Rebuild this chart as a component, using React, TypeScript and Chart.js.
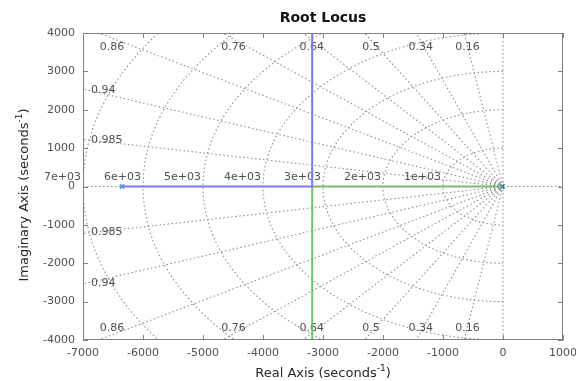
import React, { useEffect, useRef } from 'react';
import { Chart, registerables } from 'chart.js';

Chart.register(...registerables);

// ---- data ----
const poleReal = [-6350, -10];
const poleImag = [0, 0];
const blueBranchReal = [-6350, -3180, -3180];
const blueBranchImag = [0, 0, 4300];
const greenBranchReal = [-10, -3180, -3180];
const greenBranchImag = [0, 0, -4300];
const dampingRatios = [0.16, 0.34, 0.5, 0.64, 0.76, 0.86, 0.94, 0.985];
const dampingLabels = ['0.16', '0.34', '0.5', '0.64', '0.76', '0.86', '0.94', '0.985'];
const naturalFreqs = [1000, 2000, 3000, 4000, 5000, 6000, 7000];
const naturalFreqLabels = ['1e+03', '2e+03', '3e+03', '4e+03', '5e+03', '6e+03', '7e+03'];
const xTickValues = [-7000, -6000, -5000, -4000, -3000, -2000, -1000, 0, 1000];
const xTickLabels = ['-7000', '-6000', '-5000', '-4000', '-3000', '-2000', '-1000', '0', '1000'];
const yTickValues = [-4000, -3000, -2000, -1000, 0, 1000, 2000, 3000, 4000];
const yTickLabels = ['-4000', '-3000', '-2000', '-1000', '0', '1000', '2000', '3000', '4000'];

const titleText = 'Root Locus';
const xTitleText = 'Real Axis (seconds';
const yTitleText = 'Imaginary Axis (seconds';
const superText = '-1';

const FONT = '"DejaVu Sans", "Liberation Sans", sans-serif';

const sgridPlugin = {
  id: 'sgrid',
  beforeDatasetsDraw(chart: any) {
    const { ctx, chartArea: a, scales } = chart;
    const xs = scales.x;
    const ys = scales.y;
    const px = (v: number) => xs.getPixelForValue(v);
    const py = (v: number) => ys.getPixelForValue(v);
    const xMin = xs.min;
    const yMax = ys.max;

    ctx.save();
    ctx.beginPath();
    ctx.rect(a.left, a.top, a.right - a.left, a.bottom - a.top);
    ctx.clip();
    ctx.strokeStyle = '#8e8e8e';
    ctx.lineWidth = 1.1;
    ctx.setLineDash([1.5, 2.5]);

    // real and imaginary axes
    ctx.beginPath();
    ctx.moveTo(a.left, py(0));
    ctx.lineTo(a.right, py(0));
    ctx.moveTo(px(0), a.top);
    ctx.lineTo(px(0), a.bottom);
    ctx.stroke();

    // damping lines
    const R = 30000;
    dampingRatios.forEach((z) => {
      const s = Math.sqrt(1 - z * z);
      ctx.beginPath();
      ctx.moveTo(px(0), py(0));
      ctx.lineTo(px(-z * R), py(s * R));
      ctx.moveTo(px(0), py(0));
      ctx.lineTo(px(-z * R), py(-s * R));
      ctx.stroke();
    });

    // natural frequency semicircles
    naturalFreqs.forEach((w) => {
      ctx.beginPath();
      const n = 120;
      for (let i = 0; i <= n; i++) {
        const t = Math.PI / 2 + (Math.PI * i) / n;
        const X = px(w * Math.cos(t));
        const Y = py(w * Math.sin(t));
        if (i === 0) ctx.moveTo(X, Y);
        else ctx.lineTo(X, Y);
      }
      ctx.stroke();
    });
    ctx.restore();

    // labels
    ctx.save();
    ctx.font = `11px ${FONT}`;
    ctx.fillStyle = '#505050';
    ctx.textBaseline = 'middle';
    dampingRatios.forEach((z, i) => {
      const s = Math.sqrt(1 - z * z);
      const xTop = -yMax * z / s;
      if (xTop >= xMin) {
        const cx = px(xTop) + 3 + 14 * z * z;
        ctx.textAlign = 'center';
        ctx.fillText(dampingLabels[i], cx, a.top + 14);
        ctx.fillText(dampingLabels[i], cx, a.bottom - 12);
      } else {
        const yl = -xMin * s / z;
        ctx.textAlign = 'left';
        ctx.fillText(dampingLabels[i], a.left + 8, py(yl) + 1);
        ctx.fillText(dampingLabels[i], a.left + 8, py(-yl) - 1);
      }
    });
    ctx.textAlign = 'right';
    naturalFreqs.forEach((w, i) => {
      ctx.fillText(naturalFreqLabels[i], px(-w) - 2, py(0) - 9);
    });
    ctx.restore();
  },
  afterDatasetsDraw(chart: any) {
    const { ctx, chartArea: a, scales } = chart;
    const xs = scales.x;
    const ys = scales.y;
    ctx.save();
    ctx.strokeStyle = '#808080';
    ctx.lineWidth = 1;
    ctx.strokeRect(a.left + 0.5, a.top + 0.5, a.right - a.left - 1, a.bottom - a.top - 1);
    ctx.beginPath();
    const tl = 5;
    xTickValues.forEach((v) => {
      const X = Math.round(xs.getPixelForValue(v)) + 0.5;
      ctx.moveTo(X, a.bottom);
      ctx.lineTo(X, a.bottom - tl);
      ctx.moveTo(X, a.top);
      ctx.lineTo(X, a.top + tl);
    });
    yTickValues.forEach((v) => {
      const Y = Math.round(ys.getPixelForValue(v)) + 0.5;
      ctx.moveTo(a.left, Y);
      ctx.lineTo(a.left + tl, Y);
      ctx.moveTo(a.right, Y);
      ctx.lineTo(a.right - tl, Y);
    });
    ctx.stroke();
    ctx.restore();
  },
  afterDraw(chart: any) {
    const { ctx, chartArea: a } = chart;
    const cx = (a.left + a.right) / 2;
    ctx.save();
    ctx.fillStyle = '#111';
    ctx.font = `bold 14px ${FONT}`;
    ctx.textAlign = 'center';
    ctx.textBaseline = 'alphabetic';
    ctx.fillText(titleText, cx, 22);

    const drawSup = (main: string, x: number, y: number) => {
      ctx.font = `13px ${FONT}`;
      const w1 = ctx.measureText(main).width;
      ctx.font = `9px ${FONT}`;
      const w2 = ctx.measureText(superText).width;
      ctx.font = `13px ${FONT}`;
      const w3 = ctx.measureText(')').width;
      const total = w1 + w2 + w3;
      let sx = x - total / 2;
      ctx.textAlign = 'left';
      ctx.fillText(main, sx, y);
      sx += w1;
      ctx.font = `9px ${FONT}`;
      ctx.fillText(superText, sx, y - 6);
      sx += w2;
      ctx.font = `13px ${FONT}`;
      ctx.fillText(')', sx, y);
    };
    ctx.fillStyle = '#262626';
    drawSup(xTitleText, cx, 377);
    ctx.save();
    ctx.translate(28, 195);
    ctx.rotate(-Math.PI / 2);
    drawSup(yTitleText, 0, 0);
    ctx.restore();
    ctx.restore();
  },
};

export default function App() {
  const ref = useRef<HTMLCanvasElement | null>(null);
  useEffect(() => {
    if (!ref.current) return;
    const toPts = (xs: number[], ys: number[]) => xs.map((v, i) => ({ x: v, y: ys[i] }));
    const chart = new Chart(ref.current, {
      type: 'scatter',
      data: {
        datasets: [
          {
            label: 'branch 1',
            data: toPts(blueBranchReal, blueBranchImag),
            showLine: true,
            borderColor: '#7878f8',
            borderWidth: 2,
            pointRadius: 0,
            fill: false,
          },
          {
            label: 'branch 2',
            data: toPts(greenBranchReal, greenBranchImag),
            showLine: true,
            borderColor: '#70c070',
            borderWidth: 2,
            pointRadius: 0,
            fill: false,
          },
          {
            label: 'poles',
            data: toPts(poleReal, poleImag),
            showLine: false,
            pointStyle: 'crossRot',
            pointRadius: 3,
            borderWidth: 1.5,
            borderColor: ['#4a90e8', '#2a6aa8'],
            backgroundColor: ['#4a90e8', '#2a6aa8'],
          },
        ],
      },
      options: {
        responsive: false,
        animation: false,
        devicePixelRatio: 1,
        layout: { padding: { left: 0, top: 33, right: 13, bottom: 0 } },
        plugins: {
          legend: { display: false },
          title: { display: false },
          tooltip: { enabled: false },
        },
        scales: {
          x: {
            type: 'linear',
            min: -7000,
            max: 1000,
            afterBuildTicks: (s: any) => {
              s.ticks = xTickValues.map((v) => ({ value: v }));
            },
            afterFit: (s: any) => {
              s.height = 41;
              s.paddingLeft = 0;
              s.paddingRight = 0;
            },
            grid: { display: false, drawTicks: false },
            border: { display: false },
            ticks: {
              autoSkip: false,
              maxRotation: 0,
              padding: 7,
              color: '#505050',
              font: { family: FONT, size: 11 },
              callback: (_v: any, i: number) => xTickLabels[i],
            },
          },
          y: {
            type: 'linear',
            min: -4000,
            max: 4000,
            afterBuildTicks: (s: any) => {
              s.ticks = yTickValues.map((v) => ({ value: v }));
            },
            afterFit: (s: any) => {
              s.width = 83;
              s.paddingTop = 0;
              s.paddingBottom = 0;
            },
            grid: { display: false, drawTicks: false },
            border: { display: false },
            ticks: {
              autoSkip: false,
              padding: 8,
              color: '#505050',
              font: { family: FONT, size: 11 },
              callback: (_v: any, i: number) => yTickLabels[i],
            },
          },
        },
      },
      plugins: [sgridPlugin],
    } as any);
    return () => chart.destroy();
  }, []);
  return (
    <div style={{ position: 'absolute', left: 0, top: 0, width: 576, height: 381, background: '#fff' }}>
      <canvas ref={ref} width={576} height={381} style={{ display: 'block' }} />
    </div>
  );
}
